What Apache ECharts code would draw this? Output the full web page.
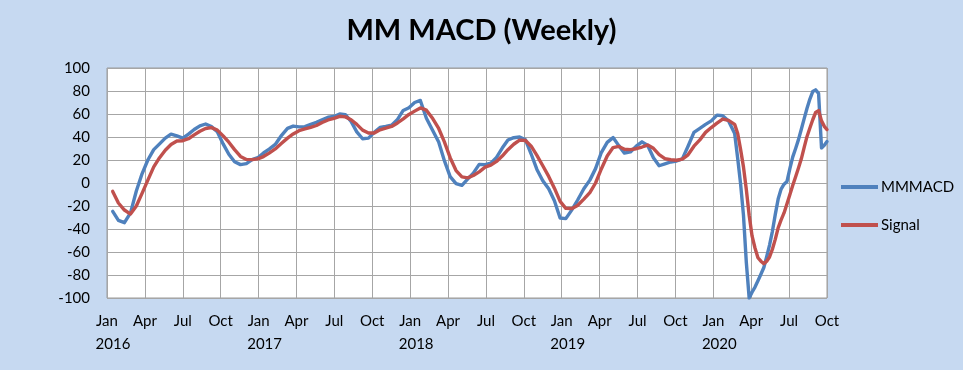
<!DOCTYPE html>
<html>
<head>
<meta charset="utf-8">
<script src="https://cdn.jsdelivr.net/npm/echarts@6/dist/echarts.min.js"></script>
<style>
  html, body { margin: 0; padding: 0; background: #C6D9F1; }
  #chart { width: 963px; height: 370px; }
</style>
</head>
<body>
<div id="chart"></div>
<script>
// Weekly observations (sampled), Jan 2016 - Oct 2020
const dates = [
  '2016-01-15','2016-01-29','2016-02-12','2016-02-26','2016-03-11','2016-03-25','2016-04-08','2016-04-22',
  '2016-05-06','2016-05-20','2016-06-03','2016-06-17','2016-07-01','2016-07-15','2016-07-29','2016-08-12',
  '2016-08-26','2016-09-09','2016-09-23','2016-10-07','2016-10-21','2016-11-04','2016-11-18','2016-12-02',
  '2016-12-16','2016-12-30',
  '2017-01-13','2017-01-27','2017-02-10','2017-02-24','2017-03-10','2017-03-24','2017-04-07','2017-04-21',
  '2017-05-05','2017-05-19','2017-06-02','2017-06-16','2017-06-30','2017-07-14','2017-07-28','2017-08-11',
  '2017-08-25','2017-09-08','2017-09-22','2017-10-06','2017-10-20','2017-11-03','2017-11-17','2017-12-01',
  '2017-12-15','2017-12-29',
  '2018-01-12','2018-01-26','2018-02-09','2018-02-23','2018-03-09','2018-03-23','2018-04-06','2018-04-20',
  '2018-05-04','2018-05-18','2018-06-01','2018-06-15','2018-06-29','2018-07-13','2018-07-27','2018-08-10',
  '2018-08-24','2018-09-07','2018-09-21','2018-10-05','2018-10-19','2018-11-02','2018-11-16','2018-11-30',
  '2018-12-14','2018-12-28',
  '2019-01-11','2019-01-25','2019-02-08','2019-02-22','2019-03-08','2019-03-22','2019-04-05','2019-04-19',
  '2019-05-03','2019-05-17','2019-05-31','2019-06-14','2019-06-28','2019-07-12','2019-07-26','2019-08-09',
  '2019-08-23','2019-09-06','2019-09-20','2019-10-04','2019-10-18','2019-11-01','2019-11-15','2019-11-29',
  '2019-12-13','2019-12-27',
  '2020-01-10','2020-01-24','2020-02-07','2020-02-21','2020-02-28','2020-03-06','2020-03-13','2020-03-20',
  '2020-03-27','2020-04-03','2020-04-10','2020-04-17','2020-04-24','2020-05-01','2020-05-08','2020-05-15',
  '2020-05-22','2020-05-29','2020-06-05','2020-06-12','2020-06-19','2020-06-26','2020-07-03','2020-07-10',
  '2020-07-17','2020-07-24','2020-07-31','2020-08-07','2020-08-14','2020-08-21','2020-08-28','2020-09-04',
  '2020-09-11','2020-09-18','2020-09-25','2020-10-01'
];

const mmmacd = [
  -24.7,-32.5,-34.5,-26,-7,8,20,29,
  34,39,42.5,41,39,42.5,46.5,49.7,
  51.3,49,44.5,34,25,18.5,16,16.8,
  20.3,22,
  26.1,29.5,33.5,41.5,47.5,49.5,48.8,49,
  51,52.7,55,57.2,57.8,60,59.4,53.5,
  44.5,38.5,39,44,48.3,49.2,50.3,55.3,
  63.1,65.5,
  70,71.8,56.3,45.6,35.6,19.4,5.5,-0.5,
  -2,3.4,8.6,16.2,16,17.2,22.3,30.4,
  37.4,39.4,40,37.5,25.2,11.8,2,-5,
  -15.5,-30.4,
  -31,-23.8,-15,-5,2.5,12.5,26.5,35.3,
  39.5,32.5,26,27,32,35.8,32.6,21.9,
  15,16.7,18.3,19.1,21,32,44,47.5,
  51,54,
  59,58.5,53.9,43,21.3,-1,-28,-69,
  -100,-95,-90.5,-85,-79.4,-73.5,-64,-54,
  -42,-27.5,-14,-5.3,-1,1.4,12.7,22.7,
  30,37.7,46.8,56,65,73,79.5,81,
  78,30.5,33,36
];

const signal = [
  -7.3,-17.4,-23.5,-27,-20,-9,2.5,14,
  22,28.5,33.5,36.5,36.8,38.5,41.8,45,
  47.4,48.2,46,41,35.5,29,23.1,20.5,
  20.3,21,
  23,26,29.6,34.5,39,42.7,45.5,47,
  48.4,50,52.6,54.8,56.2,58,57.5,55,
  51,46,43.5,43.5,46.3,47.8,49.2,52.2,
  55.7,59.6,
  62.5,65.3,63.3,56,47.4,35.8,22,10.8,
  5.3,4.5,6.5,9.7,13.8,15.5,18.8,23.4,
  29,33.7,37.3,37,32,24,15,5.7,
  -4.5,-16,
  -22,-22.3,-19.5,-14,-8.3,0,12.2,23.5,
  30.8,31.8,29.3,29,29.8,31.3,33,30.2,
  24.7,21.2,20.2,19.8,20.8,24.5,32,37.5,
  44,48.2,
  52,55.6,54.4,51,43,29,14,-5.6,
  -28,-46,-56.5,-65,-68,-70.2,-68,-64.3,
  -57.6,-49,-39,-32,-26,-18,-10,-2,
  5.5,13,21,31,40.5,47.8,55,61.3,
  63,54,49,46.5
];

const quarterLabels = ['Jan', 'Apr', 'Jul', 'Oct'];
const firstYear = 2016;

function monthPos(s) {
  const p = s.split('-').map(Number);
  const dim = new Date(p[0], p[1], 0).getDate();
  return (p[0] - firstYear) * 12 + (p[1] - 1) + (p[2] - 1) / dim;
}

const FONT = 'Lato';
const chart = echarts.init(document.getElementById('chart'));
chart.setOption({
  backgroundColor: '#C6D9F1',
  animation: false,
  title: {
    text: 'MM MACD (Weekly)',
    left: 'center',
    top: 11,
    textStyle: { fontFamily: FONT, fontSize: 29, fontWeight: 'bold', color: '#000' }
  },
  legend: {
    orient: 'vertical',
    left: 841,
    top: 178,
    padding: 0,
    itemWidth: 37,
    itemHeight: 4,
    itemGap: 20,
    icon: 'rect',
    textStyle: { fontFamily: FONT, fontSize: 15, color: '#000', lineHeight: 18, padding: [0, 0, 0, -2] },
    data: ['MMMACD', 'Signal']
  },
  grid: {
    left: 107, right: 136, top: 68, bottom: 72,
    show: true, backgroundColor: '#FFFFFF', borderColor: '#9A9A9A', borderWidth: 1
  },
  xAxis: {
    type: 'value',
    min: 0, max: 57, interval: 3,
    axisLine: { show: false },
    axisTick: { show: false },
    splitLine: { show: true, lineStyle: { color: '#A6A6A6', width: 1 } },
    axisLabel: {
      margin: 12,
      fontFamily: FONT, fontSize: 15, color: '#000',
      formatter: function (v) {
        const q = Math.round(v) % 12 / 3;
        const name = quarterLabels[q];
        if (q === 0) return '{m|' + name + '}\n{y|' + (firstYear + Math.round(v) / 12) + '}';
        return '{m|' + name + '}';
      },
      rich: {
        m: { fontFamily: FONT, fontSize: 15, color: '#000', lineHeight: 23 },
        y: { fontFamily: FONT, fontSize: 15, color: '#000', lineHeight: 23, padding: [0, 0, 0, 12] }
      }
    }
  },
  yAxis: {
    type: 'value',
    min: -100, max: 100, interval: 20,
    axisLine: { show: false },
    axisTick: { show: false },
    splitLine: { show: true, lineStyle: { color: '#A6A6A6', width: 1 } },
    axisLabel: { margin: 17, fontFamily: FONT, fontSize: 15, color: '#000' }
  },
  series: [
    {
      name: 'MMMACD', type: 'line', showSymbol: false,
      color: '#4F81BD',
      lineStyle: { width: 3.4, color: '#4F81BD', cap: 'round', join: 'round' },
      data: dates.map((d, i) => [monthPos(d), mmmacd[i]])
    },
    {
      name: 'Signal', type: 'line', showSymbol: false,
      color: '#C0504D',
      lineStyle: { width: 3.4, color: '#C0504D', cap: 'round', join: 'round' },
      data: dates.map((d, i) => [monthPos(d), signal[i]])
    }
  ]
});
</script>
</body>
</html>
